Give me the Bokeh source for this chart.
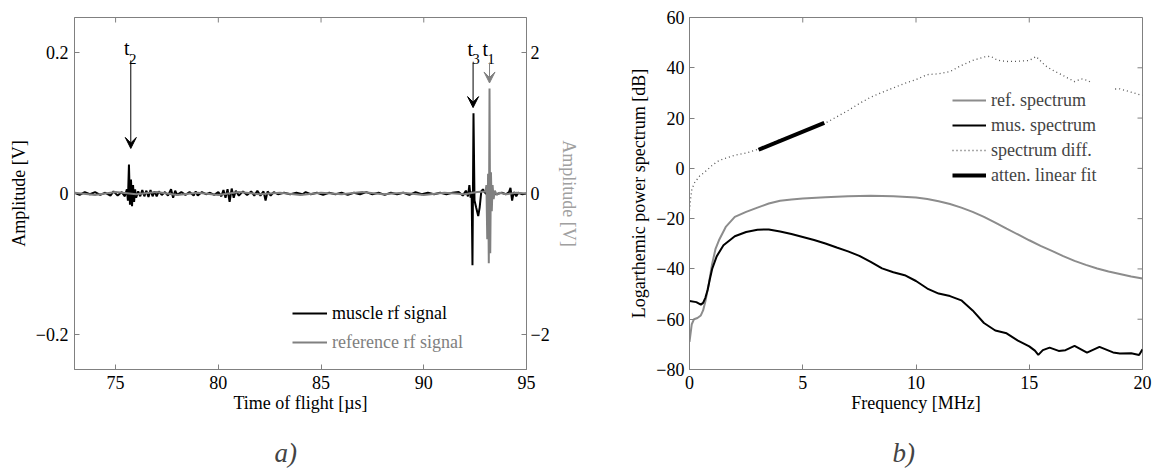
from bokeh.plotting import figure
from bokeh.layouts import row
from bokeh.models import (Range1d, LinearAxis, FixedTicker, Legend, LegendItem,
                          Arrow, VeeHead, Title)
from bokeh.core.properties import value
from bokeh.embed import file_html
from bokeh.resources import INLINE

FONT = "Liberation Serif"
FS = "18px"
AXC = "#808080"
GRAY = "#808080"

# ---------------- panel a) data ----------------
mus_t = [73.0, 73.25, 73.5, 73.75, 74.0, 74.25, 74.5, 74.75, 74.9, 75.1, 75.3, 75.45,
         75.55, 75.6, 75.65, 75.7, 75.75, 75.8, 75.85, 75.9, 75.95, 76.0, 76.1, 76.2,
         76.3, 76.4, 76.5, 76.6, 76.7, 76.8, 76.9, 77.0, 77.1, 77.25, 77.4, 77.55, 77.7,
         77.8, 77.9, 78.0, 78.2, 78.4, 78.6, 78.8, 78.9, 79.0, 79.2, 79.4, 79.6, 79.8,
         80.0, 80.15, 80.25, 80.35, 80.45, 80.55, 80.65, 80.75, 80.85, 81.0, 81.2, 81.4,
         81.6, 81.75, 81.9, 82.05, 82.2, 82.3, 82.4, 82.55, 82.7, 82.9, 83.2, 83.5, 83.8,
         84.1, 84.25, 84.5, 84.8, 85.1, 85.4, 85.7, 86.0, 86.3, 86.6, 86.9, 87.2, 87.5,
         87.8, 88.1, 88.4, 88.7, 89.0, 89.3, 89.6, 89.9, 90.2, 90.5, 90.8, 91.1, 91.4,
         91.7, 91.9, 92.05, 92.15, 92.22, 92.28, 92.33, 92.37, 92.42, 92.47, 92.55, 92.65,
         92.72, 92.8, 92.88, 92.95, 93.1, 93.3, 93.5, 93.8, 94.0, 94.15, 94.22, 94.3,
         94.38, 94.5, 94.6, 94.8, 95.0]
mus_v = [0.001, -0.002, 0.002, -0.001, 0.002, -0.002, 0.001, -0.003, 0.003, -0.003, 0.002, -0.004,
         0.006, -0.010, 0.041, -0.016, 0.020, -0.018, 0.012, -0.012, 0.006, -0.006, 0.003, -0.004,
         0.005, -0.004, 0.004, -0.005, 0.005, -0.004, 0.003, -0.004, 0.003, -0.002, 0.002, -0.003, 0.006,
         -0.006, 0.004, -0.002, 0.002, -0.002, 0.002, -0.003, 0.003, -0.003, 0.002, -0.001, 0.001, -0.002,
         0.002, -0.004, 0.005, -0.006, 0.006, -0.012, 0.007, -0.006, 0.004, -0.003, 0.003, -0.002,
         0.003, -0.003, 0.004, -0.003, 0.003, -0.010, 0.003, -0.003, 0.002, -0.001, 0.001, -0.001, 0.001,
         -0.001, 0.002, -0.001, 0.001, -0.002, 0.001, -0.001, 0.001, -0.002, 0.001, -0.001, 0.002, -0.001,
         0.001, -0.002, 0.001, -0.001, 0.001, -0.002, 0.002, -0.001, 0.001, -0.001, 0.001, -0.001, 0.001,
         0.002, -0.003, 0.004, -0.004, 0.012, -0.006, 0.003, -0.102, 0.114, -0.010, -0.020, -0.032,
         -0.020, 0.003, 0.006, 0.002, -0.002, 0.002, -0.001, 0.001, -0.001, 0.002, 0.008, -0.010,
         0.002, -0.004, 0.001, -0.001, 0.0]

# reference rf signal, right axis units
ref_t = [73.0, 74.0, 75.0, 76.0, 77.0, 78.0, 79.0, 80.0, 81.0, 82.0, 83.0, 84.0, 85.0,
         86.0, 87.0, 88.0, 89.0, 90.0, 91.0, 92.0, 92.6, 93.0, 93.05, 93.09, 93.13,
         93.165, 93.2, 93.235, 93.27, 93.31, 93.35, 93.4, 93.46, 93.55, 93.7, 94.0, 94.5, 95.0]
ref_v = [0.01, -0.02, 0.02, -0.01, 0.02, -0.02, 0.01, -0.02, 0.02, -0.01, 0.01, -0.02, 0.01,
         -0.01, 0.02, -0.01, 0.01, -0.02, 0.01, -0.01, 0.02, 0.03, 0.12, -0.65, 0.28,
         -0.99, 1.49, -0.85, 0.30, -0.25, 0.12, -0.08, 0.04, -0.02, 0.01, -0.01, 0.01, 0.0]

a_xticks = [75, 80, 85, 90, 95]
a_xlabels = ["75", "80", "85", "90", "95"]
a_yticks = [-0.2, 0, 0.2]
a_ylabels = ["\u22120.2", "0", "0.2"]
a_y2ticks = [-2, 0, 2]
a_y2labels = ["\u22122", "0", "2"]

# arrows: t2, t3 (black) and t1 (gray)
arrow_x = [75.74, 92.40, 93.20]
arrow_top = [0.189, 0.186, 0.186]
arrow_tip = [0.064, 0.122, 0.157]
arrow_col = ["black", "black", GRAY]
mark_x = [75.55, 92.26, 92.99]
mark_y = [0.207, 0.205, 0.205]
sub_x = [75.84, 92.54, 93.27]
sub_y = [0.191, 0.191, 0.191]
sub_txt = ["2", "3", "1"]

# ---------------- panel b) data ----------------
f_ref = [0, 0.1, 0.2, 0.35, 0.5, 0.6, 0.7, 0.85, 1.0, 1.15, 1.3, 1.6, 2.0, 2.5, 3, 3.5, 4,
         4.5, 5, 6, 7, 8, 9, 10, 10.5, 11, 11.5, 12, 12.5, 13, 13.5, 14, 14.5, 15, 15.5,
         16, 16.5, 17, 17.5, 18, 18.5, 19, 19.5, 20]
db_ref = [-69, -62, -60, -59.5, -58.5, -56.5, -53, -46, -38, -32, -28.6, -23.3, -19.3, -17.3,
          -15.6, -14, -12.9, -12.4, -12, -11.5, -11.1, -10.9, -11.1, -11.6, -12.2, -13.1,
          -14.2, -15.6, -17.3, -19.3, -21.6, -24, -26.3, -28.6, -30.8, -32.8, -34.9, -36.8,
          -38.4, -39.8, -41, -42, -43, -43.8]

f_mus = [0, 0.3, 0.5, 0.6, 0.7, 0.8, 0.9, 1.0, 1.2, 1.5, 2.0, 2.5, 3.0, 3.5, 4.0, 4.5, 5.0,
         5.5, 6.0, 6.5, 7.0, 7.5, 8.0, 8.5, 9.0, 9.5, 10.0, 10.5, 11.0, 11.5, 12.0, 12.5,
         13.0, 13.5, 14.0, 14.5, 15.0, 15.25, 15.4, 15.6, 15.9, 16.3, 16.6, 17.0, 17.55,
         18.1, 18.7, 19.0, 19.5, 19.85, 20.0]
db_mus = [-52.8, -53.2, -54.2, -53.5, -51.5, -48.4, -44, -40, -35, -30.6, -27, -25.3, -24.4,
          -24.3, -25.1, -26.1, -27.3, -28.5, -29.9, -31.5, -33, -34.8, -37.2, -39.8, -41.3,
          -42.5, -44.8, -47.8, -49.8, -50.8, -52.5, -56.5, -61.5, -64.5, -65.6, -68.5,
          -70.8, -72.5, -74.2, -72.3, -71.3, -72.6, -72.3, -70.6, -73.3, -71.0, -73.2,
          -73.6, -73.5, -74.2, -72.0]

f_diff = [0, 0.05, 0.1, 0.2, 0.3, 0.45, 0.6, 0.8, 1.0, 1.25, 1.5, 2.0, 2.5, 3.0, 3.5, 4,
          4.5, 5, 5.5, 6, 6.5, 7, 7.5, 8, 8.5, 9, 9.5, 10, 10.5, 11, 11.5, 12, 12.5, 13,
          13.3, 13.6, 14, 14.5, 15, 15.3, 15.7, 16, 16.5, 17, 17.3, 17.6, 17.9, 18.2,
          18.5, 19, 19.5, 20]
db_diff = [-16.7, -12, -8.7, -6, -4.8, -3, -2, -0.5, 1.2, 2.8, 3.8, 5.2, 6.1, 7.5, 9.5,
           11.5, 13, 14.8, 16.5, 18, 20.5, 23, 25.8, 28.3, 30.2, 32, 33.8, 35.3, 37.3,
           37.6, 38.5, 40.9, 42.9, 44.3, 44.6, 43, 42.5, 42.6, 42.9, 44.5, 40.9, 39.2,
           36.9, 34.5, 35.6, 34.9, 33, 32, 31.5, 31.6, 30.3, 29]

f_fit = [3.05, 5.95]
db_fit = [7.4, 18.1]

b_xticks = [0, 5, 10, 15, 20]
b_xlabels = ["0", "5", "10", "15", "20"]
b_yticks = [-80, -60, -40, -20, 0, 20, 40, 60]
b_ylabels = ["\u221280", "\u221260", "\u221240", "\u221220", "0", "20", "40", "60"]

TICK_PX = 5.0


def style_axis(ax, ticks, labels, standoff=5):
    ax.ticker = FixedTicker(ticks=ticks)
    ax.major_label_overrides = {t: l for t, l in zip(ticks, labels)}
    ax.axis_line_color = AXC
    ax.major_tick_line_color = AXC
    ax.major_tick_in = 5
    ax.major_tick_out = 0
    ax.minor_tick_line_color = None
    ax.major_label_text_font = FONT
    ax.major_label_text_font_size = FS
    ax.major_label_text_color = "black"
    ax.major_label_standoff = standoff
    ax.axis_label_text_font = FONT
    ax.axis_label_text_font_size = FS
    ax.axis_label_text_font_style = "normal"
    ax.axis_label_text_color = "black"


def top_ticks(p, ticks, yr, fh):
    ln = (yr.end - yr.start) * TICK_PX / fh
    p.segment(x0=ticks, y0=[yr.end] * len(ticks), x1=ticks, y1=[yr.end - ln] * len(ticks),
              line_color=AXC, line_width=1)


def right_ticks(p, ticks, xr, fw):
    ln = (xr.end - xr.start) * TICK_PX / fw
    p.segment(x0=[xr.end] * len(ticks), y0=ticks, x1=[xr.end - ln] * len(ticks), y1=ticks,
              line_color=AXC, line_width=1)


# ---------------- panel a ----------------
xr1 = Range1d(73, 95)
yr1 = Range1d(-0.25, 0.25)
p1 = figure(frame_width=452, frame_height=352, min_border_left=74, min_border_right=56,
            min_border_top=17, min_border_bottom=103, x_range=xr1, y_range=yr1,
            x_axis_label="Time of flight [\u00b5s]", y_axis_label="Amplitude [V]",
            output_backend="svg", toolbar_location=None)
p1.extra_y_ranges = {"ref": Range1d(-2.5, 2.5)}
p1.grid.visible = False
p1.outline_line_color = AXC

style_axis(p1.xaxis[0], a_xticks, a_xlabels, standoff=6)
p1.xaxis[0].axis_label_standoff = 1
style_axis(p1.yaxis[0], a_yticks, a_ylabels, standoff=6)
p1.yaxis[0].axis_label_standoff = 4

ax_r = LinearAxis(y_range_name="ref", axis_label="Amplitude [V]")
style_axis(ax_r, a_y2ticks, a_y2labels, standoff=4)
ax_r.axis_label_standoff = 6
ax_r.axis_label_text_color = "#a0a0a0"
p1.add_layout(ax_r, "right")

top_ticks(p1, a_xticks, yr1, 352)

r_mus = p1.line(mus_t, mus_v, line_color="black", line_width=2)
r_refsig = p1.line(ref_t, ref_v, line_color=GRAY, line_width=2, y_range_name="ref")

for xs, yt, yp, c in zip(arrow_x, arrow_top, arrow_tip, arrow_col):
    p1.add_layout(Arrow(x_start=xs, y_start=yt, x_end=xs, y_end=yp, line_color=c, line_width=1,
                        end=VeeHead(size=11, fill_color=c, line_color=c)))
p1.text(x=mark_x, y=mark_y, text=["t", "t", "t"], text_font=value(FONT), text_font_size="20px",
        text_align="center", text_baseline="middle", text_color="black")
p1.text(x=sub_x, y=sub_y, text=sub_txt, text_font=value(FONT), text_font_size="15px",
        text_align="center", text_baseline="middle", text_color="black")

common_leg = dict(padding=0, spacing=0, margin=0, glyph_width=35, glyph_height=22,
                  label_height=22, label_standoff=5, background_fill_alpha=0,
                  border_line_alpha=0, label_text_font=FONT, label_text_font_size=FS)
leg1 = Legend(items=[LegendItem(label="muscle rf signal", renderers=[r_mus])],
              location=(218, 45), label_text_color="black", **common_leg)
leg2 = Legend(items=[LegendItem(label="reference rf signal", renderers=[r_refsig])],
              location=(218, 16), label_text_color=GRAY, **common_leg)
p1.add_layout(leg1)
p1.add_layout(leg2)

p1.add_layout(Title(text="a)", align="left", offset=200, standoff=40, text_font=FONT,
                    text_font_size="27px", text_font_style="italic"), "below")

# ---------------- panel b ----------------
xr2 = Range1d(0, 20)
yr2 = Range1d(-80, 60)
p2 = figure(frame_width=453, frame_height=352, min_border_left=107, min_border_right=12,
            min_border_top=17, min_border_bottom=103, x_range=xr2, y_range=yr2,
            x_axis_label="Frequency [MHz]", y_axis_label="Logarthemic power spectrum [dB]",
            output_backend="svg", toolbar_location=None)
p2.grid.visible = False
p2.outline_line_color = AXC
style_axis(p2.xaxis[0], b_xticks, b_xlabels, standoff=6)
p2.xaxis[0].axis_label_standoff = 1
style_axis(p2.yaxis[0], b_yticks, b_ylabels, standoff=5)
p2.yaxis[0].axis_label_standoff = 4

top_ticks(p2, b_xticks, yr2, 352)
right_ticks(p2, b_yticks, xr2, 453)

r_ref = p2.line(f_ref, db_ref, line_color="#8c8c8c", line_width=2)
r_musb = p2.line(f_mus, db_mus, line_color="black", line_width=2)
r_diff = p2.line(f_diff, db_diff, line_color="#555555", line_width=1.3, line_dash="1 3")
r_fit = p2.line(f_fit, db_fit, line_color="black", line_width=4)

leg_b = Legend(items=[LegendItem(label="ref. spectrum", renderers=[r_ref]),
                      LegendItem(label="mus. spectrum", renderers=[r_musb]),
                      LegendItem(label="spectrum diff.", renderers=[r_diff]),
                      LegendItem(label="atten. linear fit", renderers=[r_fit])],
               location=(257, 177), padding=6, spacing=3, margin=0, glyph_width=34,
               glyph_height=22, label_height=22, label_standoff=5, label_width=118,
               background_fill_color="white", background_fill_alpha=1.0,
               border_line_alpha=0, label_text_font=FONT, label_text_font_size=FS)
p2.add_layout(leg_b)

p2.add_layout(Title(text="b)", align="left", offset=203, standoff=40, text_font=FONT,
                    text_font_size="27px", text_font_style="italic"), "below")

layout = row(p1, p2, spacing=0)
open("out.html", "w").write(file_html(layout, INLINE))
